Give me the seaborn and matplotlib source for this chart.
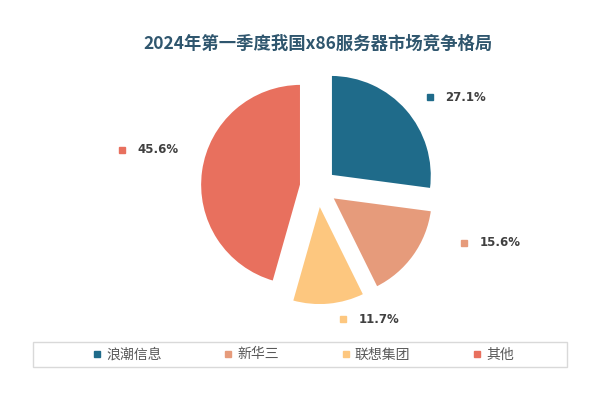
import matplotlib
matplotlib.use("Agg")
import matplotlib.pyplot as plt
import seaborn as sns
from matplotlib.lines import Line2D
from matplotlib.patches import Rectangle

# data
companies = ["浪潮信息", "新华三", "联想集团", "其他"]
shares = [27.1, 15.6, 11.7, 45.6]
colors = ["#1f6b8a", "#e69b7b", "#fdc77f", "#e8705e"]
title = "2024年第一季度我国x86服务器市场竞争格局"

# layout: label marker anchors in pie units (pie radius = 1)
label_xy = [(1.11, 0.89), (1.45, -0.55), (0.25, -1.31), (-1.94, 0.37)]

sns.set_theme(style="white")
plt.rcParams["font.family"] = ["Noto Sans CJK SC", "DejaVu Sans"]

fig = plt.figure(figsize=(6, 4), dpi=100)
fig.patch.set_facecolor("white")
ax = fig.add_axes([0.16, 0.166, 0.74, 0.7325])

wedges, _ = ax.pie(
    shares, colors=colors, startangle=90, counterclock=False,
    explode=[0.17] * len(shares), radius=1,
    wedgeprops=dict(edgecolor="white", linewidth=1.5),
)
ax.set_xlim(-2.2, 2.2)
ax.set_ylim(-1.45, 1.45)
ax.set_aspect("equal")
ax.axis("off")

for (x, y), val, c in zip(label_xy, shares, colors):
    ax.plot(x, y, marker="s", ms=4, color=c, ls="none", clip_on=False)
    ax.annotate(f"{val:.1f}%", (x, y), xytext=(11, 0), textcoords="offset points",
                ha="left", va="center", fontsize=8.5, fontweight="bold",
                color="#404040", family=["DejaVu Sans"], annotation_clip=False)

fig.text(0.53, 0.89, title, ha="center", va="center", fontsize=12.5,
         fontweight="bold", color="#2f566e")

# legend box
fig.patches.append(Rectangle((0.055, 0.0825), 0.89, 0.0625, transform=fig.transFigure,
                             facecolor="none", edgecolor="#d9d9d9", lw=1))
handles = [Line2D([], [], marker="s", ls="none", ms=5, color=c) for c in colors]
fig.legend(handles, companies, loc="center", bbox_to_anchor=(0.505, 0.114),
           ncol=4, frameon=False, fontsize=10, handlelength=0.7,
           handletextpad=0.3, columnspacing=4.45, labelcolor="#595959")

fig.savefig("out.png", dpi=100)
